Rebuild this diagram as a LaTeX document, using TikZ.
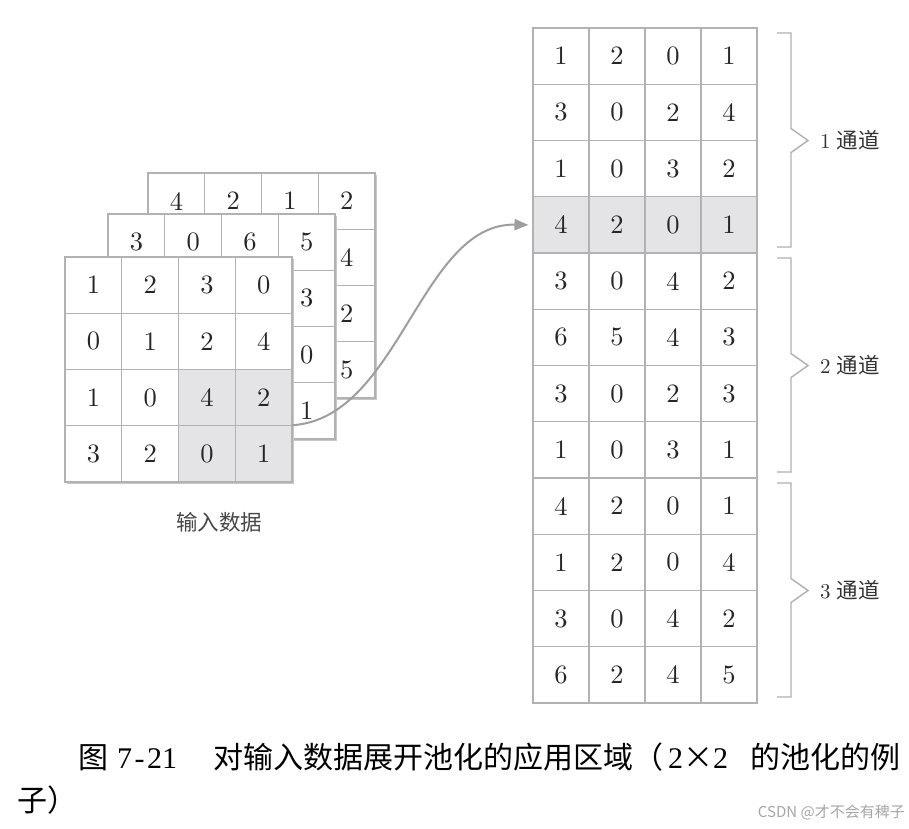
\documentclass[tikz,border=0pt]{standalone}
\usepackage{fontspec}
\newfontfamily\cjk{Noto Sans CJK SC}
\newfontfamily\digfont[Extension=.otf]{lmroman10-regular}
\newfontfamily\capdig{Liberation Serif}
\usetikzlibrary{arrows.meta}
\definecolor{gridc}{HTML}{B2B2B2}
\definecolor{shadec}{HTML}{E4E4E6}
\definecolor{arrc}{HTML}{9E9E9E}
\definecolor{brc}{HTML}{B0B0B0}
\newcommand\hw[1]{\makebox[15pt]{\capdig #1}}
\begin{document}
\begin{tikzpicture}[x=1pt,y=-1pt,
  cellL/.style={draw=gridc, line width=1.1pt, minimum width=56.75pt, minimum height=56.25pt,
    inner sep=0pt, font=\digfont\fontsize{26.5}{26.5}\selectfont, text=black!85},
  cellR/.style={cellL, minimum width=56pt},
  shadowbox/.style={fill=black!22},
  bracketline/.style={draw=brc, line width=1.4pt, line join=miter},
  chanlabel/.style={anchor=west, inner sep=0pt, text=black!80},
  capt/.style={anchor=base west, inner sep=0pt, font=\cjk\fontsize{30}{30}\selectfont, text=black},
  arr/.style={draw=arrc, line width=2pt, -{Triangle[length=14pt,width=11pt]}}
]
\useasboundingbox (0,0) rectangle (909,828);
\fill[white] (0,0) rectangle (909,828);

% ---------- back matrix (channel 3) ----------
\fill[shadowbox] (149.5,175) rectangle (376.5,400);
\foreach \row [count=\r from 0] in {{4,2,1,2},{{},{},{},4},{{},{},{},2},{{},{},{},5}} {
  \foreach \v [count=\c from 0] in \row {
    \node[cellL, fill=white] (b-\r-\c) at ({148+56.75*(\c+0.5)}, {173+56.25*(\r+0.5)}) {\v};
  }
}
% ---------- middle matrix (channel 2) ----------
\fill[shadowbox] (109.5,216) rectangle (336.5,441);
\foreach \row [count=\r from 0] in {{3,0,6,5},{{},{},{},3},{{},{},{},0},{{},{},{},1}} {
  \foreach \v [count=\c from 0] in \row {
    \node[cellL, fill=white] (m-\r-\c) at ({108+56.75*(\c+0.5)}, {214+56.25*(\r+0.5)}) {\v};
  }
}
% ---------- front matrix (channel 1) ----------
\fill[shadowbox] (66.5,259) rectangle (293.5,484);
\foreach \row [count=\r from 0] in {{1,2,3,0},{0,1,2,4},{1,0,4,2},{3,2,0,1}} {
  \foreach \v [count=\c from 0] in \row {
    \pgfmathtruncatemacro\sh{and(\r>1,\c>1)}
    \def\fc{white}\ifnum\sh=1 \def\fc{shadec}\fi
    \node[cellL, fill=\fc] (f-\r-\c) at ({65+56.75*(\c+0.5)}, {257+56.25*(\r+0.5)}) {\v};
  }
}
\node[inner sep=0pt, font=\cjk\fontsize{21.5}{21.5}\selectfont, text=black!72] (inlab) at (219,522) {输入数据};

% ---------- right table ----------
\foreach \row [count=\r from 0] in {{1,2,0,1},{3,0,2,4},{1,0,3,2},{4,2,0,1},
                                    {3,0,4,2},{6,5,4,3},{3,0,2,3},{1,0,3,1},
                                    {4,2,0,1},{1,2,0,4},{3,0,4,2},{6,2,4,5}} {
  \foreach \v [count=\c from 0] in \row {
    \def\fc{white}\ifnum\r=3 \def\fc{shadec}\fi
    \node[cellR, fill=\fc] (r-\r-\c) at ({533+56*(\c+0.5)}, {28+56.25*(\r+0.5)}) {\v};
  }
}

% ---------- arrow ----------
\draw[arr] (f-3-3.north east) .. controls +(107,-7) and +(-108,-2) .. ([xshift=-4pt]r-3-0.west);

% ---------- brackets ----------
\foreach \k/\lab in {0/1,1/2,2/3} {
  \pgfmathsetmacro\top{28+225*\k+5}
  \pgfmathsetmacro\bot{28+225*(\k+1)-6}
  \pgfmathsetmacro\mid{28+225*\k+112.5}
  \draw[bracketline] (777,\top) -- (791,\top) -- (791,\mid-12) -- (808,\mid)
        -- (791,\mid+12) -- (791,\bot) -- (777,\bot);
  \node[chanlabel] (ch\lab) at (820,\mid)
     {\digfont\fontsize{21}{21}\selectfont\lab\hspace{6pt}{\cjk\fontsize{21.5}{21.5}\selectfont 通道}};
}

% ---------- caption ----------
\node[capt] (c1) at (78,768) {图};
\node[capt] (c2) at (117,768) {\hw{7}\hw{-}\hw{2}\hw{1}};
\node[capt] (c3) at (213,768) {对输入数据展开池化的应用区域（};
\node[capt] (c4) at (668,768) {\hw{2}\makebox[30pt]{×}\hw{2}};
\node[capt] (c5) at (750,768) {的池化的例};
\node[capt] (c6) at (17,811) {子）};

% ---------- watermark ----------
\node[anchor=east, inner sep=0pt, font=\cjk\fontsize{15}{15}\selectfont, text=black!35] (wm) at (905,812) {CSDN @才不会有稗子};
\end{tikzpicture}
\end{document}
